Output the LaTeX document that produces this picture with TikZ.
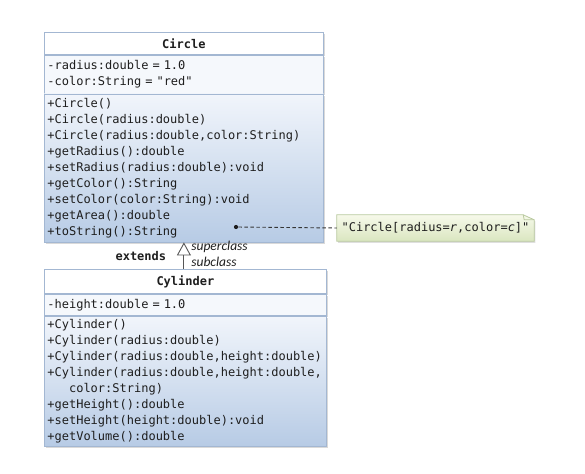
\documentclass[tikz,border=0pt]{standalone}
\usepackage{fontspec}
\setmonofont{DejaVu Sans Mono}
\setsansfont{Carlito}
\usetikzlibrary{arrows.meta, positioning, shadows, backgrounds}
\definecolor{umlborder}{HTML}{A3B7D2}
\definecolor{umltop}{HTML}{F1F5FB}
\definecolor{umlbottom}{HTML}{B7CBE5}
\definecolor{umlattr}{HTML}{F5F8FC}
\definecolor{notetop}{HTML}{F6F9EA}
\definecolor{notebottom}{HTML}{DAE6C0}
\definecolor{noteborder}{HTML}{B9C99F}
\definecolor{umltext}{HTML}{1E1E1E}

\begin{document}
\begin{tikzpicture}[x=1bp, y=-1bp, text=umltext,
    font=\ttfamily\fontsize{12bp}{16bp}\selectfont]
    \tikzstyle{section}=[draw=umlborder, line width=0.8bp, inner xsep=3bp, inner ysep=0pt,
        align=left, drop shadow={shadow xshift=1.2bp, shadow yshift=-1.6bp, opacity=0.3}]
    \tikzstyle{title part}=[section, fill=white, align=center, font=\ttfamily\bfseries\fontsize{12bp}{16bp}\selectfont]
    \tikzstyle{attr part}=[section, fill=umlattr]
    \tikzstyle{method part}=[section, top color=umltop, bottom color=umlbottom]
    \tikzstyle{annot}=[font=\sffamily\itshape\fontsize{13.5bp}{16bp}\selectfont, inner sep=1bp]

    \useasboundingbox (0,0) rectangle (585,474);

    % class Circle
    \node[title part, text width=273bp, minimum height=22bp, anchor=north west] (C-title) at (44,32) {Circle};
    \node[attr part, text width=273bp, minimum height=38bp, below=0pt of C-title] (C-attr)
        {-radius:double = 1.0\\-color:String = "red"};
    \node[method part, text width=273bp, minimum height=148bp, below=0pt of C-attr] (C-meth)
        {+Circle()\\
         +Circle(radius:double)\\
         +Circle(radius:double,color:String)\\
         +getRadius():double\\
         +setRadius(radius:double):void\\
         +getColor():String\\
         +setColor(color:String):void\\
         +getArea():double\\
         +toString():String};

    % class Cylinder
    \node[title part, text width=276bp, minimum height=24bp, anchor=north west] (Y-title) at (44,269) {Cylinder};
    \node[attr part, text width=276bp, minimum height=21bp, below=0pt of Y-title] (Y-attr)
        {-height:double = 1.0};
    \node[method part, text width=276bp, minimum height=130bp, below=0pt of Y-attr] (Y-meth)
        {+Cylinder()\\
         +Cylinder(radius:double)\\
         +Cylinder(radius:double,height:double)\\
         +Cylinder(radius:double,height:double,\\
         \phantom{+Cy}color:String)\\
         +getHeight():double\\
         +setHeight(height:double):void\\
         +getVolume():double};

    % note for toString()
    \node[minimum width=197bp, minimum height=26bp, inner sep=0pt] (note) at (435.5,228)
        {"Circle[radius=\textit{r},color=\textit{c}]"};
    \begin{scope}[on background layer]
        \path[draw=noteborder, line width=0.8bp, top color=notetop, bottom color=notebottom,
              drop shadow={shadow xshift=1.2bp, shadow yshift=-1.6bp, opacity=0.25}]
            (note.north west) -- ([xshift=-11bp]note.north east) -- ([yshift=-5bp]note.north east)
            -- (note.south east) -- (note.south west) -- cycle;
        \draw[noteborder, line width=0.8bp] ([xshift=-11bp]note.north east) -- ([xshift=-10bp,yshift=-5bp]note.north east)
            -- ([yshift=-5bp]note.north east);
    \end{scope}

    \node[circle, fill=umltext, inner sep=0pt, minimum size=4.2bp] (dot) at (236,227) {};
    \draw[umltext!90, line width=0.9bp, dash pattern=on 3.5bp off 2.5bp] (dot) -- (note.west);

    % inheritance
    \draw[umltext!75, line width=0.9bp, -{Triangle[open, length=13bp, width=14bp]}]
        (C-meth.south |- Y-title.north) --
        node[pos=0.5, left=14bp, font=\ttfamily\bfseries\fontsize{12bp}{16bp}\selectfont, text=umltext] {extends}
        node[pos=0.28, right=6bp, annot, text=umltext] {subclass}
        node[pos=0.82, right=6bp, annot, text=umltext] {superclass}
        (C-meth.south);
\end{tikzpicture}
\end{document}
